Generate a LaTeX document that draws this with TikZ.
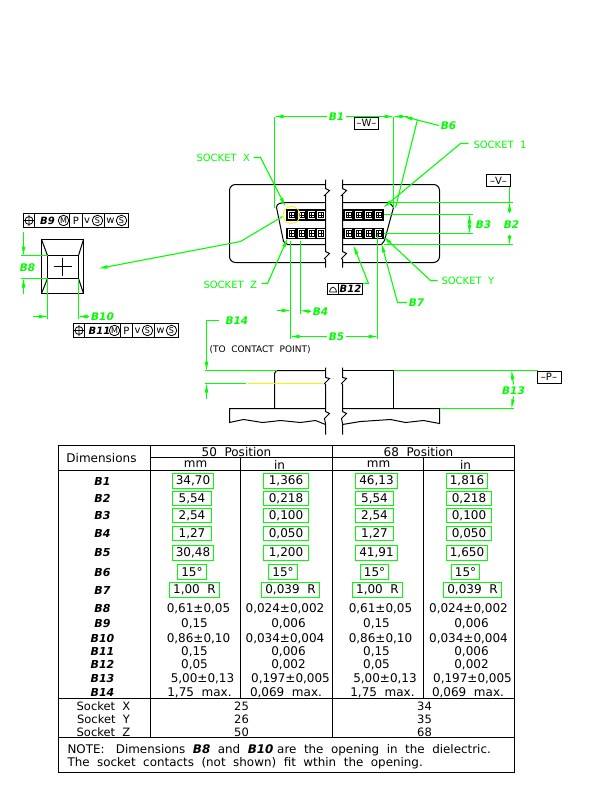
\documentclass[tikz,border=0pt]{standalone}
\usepackage{fontspec}
\setmainfont{DejaVu Sans}
\usetikzlibrary{arrows.meta}

\begin{document}
\begin{tikzpicture}[x=1pt,y=-1pt,
    every node/.style={inner sep=0pt,outer sep=0pt},
    outline/.style={draw=black,line width=1pt},
    dimline/.style={draw=green,line width=1.1pt},
    dimarrow/.style={dimline,-{Triangle[length=9pt,width=3.2pt]}},
    leadtext/.style={text=green,font=\fontsize{10}{12}\selectfont},
    dimtext/.style={text=green,outer sep=2pt,font=\fontsize{10.5}{12}\selectfont\bfseries\itshape},
    tabletext/.style={font=\fontsize{12}{14}\selectfont},
    tablelabel/.style={font=\fontsize{11}{13}\selectfont\bfseries\itshape},
    sockettext/.style={font=\fontsize{11.5}{14}\selectfont},
    notetext/.style={anchor=west,font=\fontsize{11.9}{14}\selectfont},
    valbox/.style={draw=green,line width=1.1pt,tabletext,minimum height=#1},
    valbox/.default=14pt,
    datumbox/.style={draw=black,line width=1pt,font=\fontsize{10}{11}\selectfont,minimum width=24pt,minimum height=12pt},
    circled/.style={draw=black,circle,line width=0.8pt,minimum size=10.5pt,font=\fontsize{8}{9}\selectfont},
    fcftext/.style={font=\fontsize{10}{11}\selectfont},
    fcflabel/.style={font=\fontsize{10}{11}\selectfont\bfseries\itshape}]

    \fill[white] (0,0) rectangle (612,792);
    \useasboundingbox (0,0) rectangle (612,792);

    \begin{scope}[shift={(0.5,0.5)}]
    % connector body, top view
    \draw[outline,rounded corners=6pt] (325,184) -- (229,184) -- (229,262) -- (325,262);
    \draw[outline,rounded corners=6pt] (342,184) -- (439,184) -- (439,262) -- (342,262);
    \foreach \bx in {325,342}{
        \draw[outline] (\bx,179) -- (\bx,188) -- ++(4,2) -- ++(-5,5) -- ++(1,0) -- (\bx,251)
            -- ++(4,2) -- ++(-5,5) -- ++(1,1) -- (\bx,267);
    }
    \draw[outline] (325,202) -- (287,202) .. controls (280,202) and (276,203) .. (276,207) -- (283,241) -- (287,244) -- (325,244);
    \draw[outline] (342,202) -- (389,202) -- (393,207) -- (384,240) -- (381,244) -- (342,244);

    % socket contacts
    \foreach \cx in {291,301,311,320.5,348,358,368,378}{
        \foreach \cy in {214.5,233}{
            \fill[black] (\cx-5.2,\cy-5.7) rectangle (\cx+5.2,\cy+5.7);
            \fill[white] (\cx-3.7,\cy-4.2) rectangle (\cx+3.7,\cy+4.2);
            \draw[black,line width=0.7pt] (\cx-2.6,\cy-2.8) rectangle (\cx+2.6,\cy+2.8);
            \draw[black,line width=0.6pt] (\cx-2.6,\cy) -- (\cx+2.6,\cy) (\cx,\cy-2.8) -- (\cx,\cy+2.8);
        }
    }
    \draw[yellow,line width=0.8pt] (291,214.5) circle (8.5);

    % top view dimensions
    \node[dimtext] (dimB1) at (336,116) {B1};
    \node[datumbox] (datumW) at (366,122.5) {–W–};
    \coordinate (b1left) at (274,116);
    \coordinate (b1right) at (393,116);
    \draw[dimline] (b1left) -- (274,207);
    \draw[dimline] (b1right) -- (393,207);
    \draw[dimarrow] (dimB1.west) -- (b1left);
    \draw[dimarrow] (dimB1.east) -- (b1right);
    \node[dimtext] (dimB6) at (448,125) {B6};
    \draw[dimarrow] (407,116) -- (b1right);
    \draw[dimarrow] (dimB6.west) -- (403,116);
    \draw[dimline] (417,119) -- (395,207);

    \node[leadtext,anchor=west] (socket1) at (473,144) {SOCKET\ \ 1};
    \draw[dimarrow] (468,143) -- (460,143) -- (383,207);
    \node[leadtext,anchor=west] (socketX) at (196,157) {SOCKET\ \ X};
    \draw[dimarrow] (253,157) -- (260,157) -- (285,206);
    \node[leadtext,anchor=west] (socketZ) at (203,284) {SOCKET\ \ Z};
    \draw[dimarrow] (261,283) -- (267,283) -- (287,238);
    \node[leadtext,anchor=west] (socketY) at (441,280) {SOCKET\ \ Y};
    \draw[dimarrow] (437,280) -- (430,280) -- (383,236);
    \node[dimtext] (dimB7) at (416,302) {B7};
    \draw[dimarrow] (dimB7.west) -- (397,302) -- (381,243);

    \node[draw=black,line width=1pt,minimum width=35pt,minimum height=11pt] (tolB12) at (344.5,288.5) {};
    \draw[outline] (338,283) -- (338,294);
    \draw[black,line width=0.7pt] (329,291.5) -- (336,291.5) .. controls (335,285) and (330,285) .. (329,291.5);
    \node[fcflabel] (dimB12) at (350,288.5) {B12};
    \draw[dimarrow] (tolB12.north east) -- (368,283) -- (353,245);

    \node[datumbox] (datumV) at (498,180) {–V–};
    \coordinate (b2top) at (509,202);
    \coordinate (b2bot) at (509,244);
    \draw[dimline] (389,202) -- (512,202);
    \draw[dimline] (383,244) -- (512,244);
    \draw[dimline] (383,214) -- (472,214);
    \draw[dimline] (383,233) -- (472,233);
    \node[dimtext] (dimB2) at (511,224) {B2};
    \node[dimtext] (dimB3) at (483,224) {B3};
    \draw[dimline] (datumV.south east) ++(-1,0) -- (b2top);
    \draw[dimarrow] (509,212) -- (b2top);
    \draw[dimarrow] (509,234) -- (b2bot);
    \draw[dimarrow] (469,224) -- (469,214);
    \draw[dimarrow] (469,224) -- (469,233);

    % B4 and B5
    \draw[dimline] (290,240) -- (290,338);
    \draw[dimline] (300,240) -- (300,313);
    \draw[dimline] (377,233) -- (377,338);
    \node[dimtext] (dimB4) at (320,311) {B4};
    \node[dimtext] (dimB5) at (336,336) {B5};
    \draw[dimarrow] (276,310) -- (290,310);
    \draw[dimarrow] (dimB4.west) -- (300,310);
    \draw[dimarrow] (dimB5.west) -- (290,336);
    \draw[dimarrow] (dimB5.east) -- (377,336);

    % contact window, left view
    \draw[outline] (41,239) rectangle (83,293);
    \draw[outline] (47,255) rectangle (78,278);
    \draw[outline] (41,239) -- (47,255) (83,239) -- (78,255) (41,293) -- (47,278) (83,293) -- (78,278);
    \draw[outline] (53,266) -- (71,266) (62,257) -- (62,275);
    \draw[dimarrow] (282,216) -- (240,241) -- (98,268);

    \node[dimtext] (dimB8) at (27,267) {B8};
    \draw[dimline] (20,255) -- (47,255);
    \draw[dimline] (20,278) -- (47,278);
    \draw[dimarrow] (23,231) -- (23,255);
    \draw[dimarrow] (23,293) -- (23,278);
    \draw[dimline] (47,278) -- (47,318);
    \draw[dimline] (78,278) -- (78,318);
    \node[dimtext] (dimB10) at (102,316) {B10};
    \draw[dimarrow] (32,316) -- (47,316);
    \draw[dimarrow] (dimB10.west) -- (78,316);

    % feature control frames
    \draw[outline] (23,213) rectangle (128,227);
    \foreach \fx in {34,69,82,104}{ \draw[outline] (\fx,213) -- (\fx,227); }
    \draw[outline,line width=0.8pt] (28.5,220) circle (4) (23.5,220) -- (33.5,220) (28.5,214.5) -- (28.5,225.5);
    \node[fcflabel] (fcfB9) at (47,220) {B9};
    \node[circled] (fcfBM) at (63,220) {M};
    \node[fcftext] (fcfBP) at (75.5,220) {P};
    \node[fcftext] (fcfBv) at (86.5,220) {v};
    \node[circled] (fcfBvS) at (97,220) {S};
    \node[fcftext] (fcfBw) at (110,220) {w};
    \node[circled] (fcfBwS) at (121,220) {S};

    \draw[outline] (73,323) rectangle (178,337);
    \foreach \fx in {84,120,132,154}{ \draw[outline] (\fx,323) -- (\fx,337); }
    \draw[outline,line width=0.8pt] (78.5,330) circle (4) (73.5,330) -- (83.5,330) (78.5,324.5) -- (78.5,335.5);
    \node[fcflabel] (fcfB11) at (99,330) {B11};
    \node[circled] (fcfCM) at (114,330) {M};
    \node[fcftext] (fcfCP) at (126,330) {P};
    \node[fcftext] (fcfCv) at (137,330) {v};
    \node[circled] (fcfCvS) at (147,330) {S};
    \node[fcftext] (fcfCw) at (160,330) {w};
    \node[circled] (fcfCwS) at (171,330) {S};

    % side view
    \foreach \bx in {325,342}{
        \draw[outline] (\bx,367) -- (\bx,377) -- ++(4,1) -- ++(-5,5) -- ++(1,1) -- (\bx,411)
            -- ++(4,2) -- ++(-5,5) -- ++(1,5) -- (\bx,434);
    }
    \draw[outline] (325,370) -- (276,370) -- (274,373) -- (274,408);
    \draw[outline] (342,370) -- (393,370) -- (393,408);
    \draw[outline] (325,408) -- (229,408) -- (229,422) -- (243,419) -- (262,422) -- (280,420) -- (300,422) -- (315,420) -- (325,424);
    \draw[outline] (342,408) -- (439,408) -- (439,423) -- (423,420) -- (405,422) -- (390,419) -- (360,421) -- (342,424);

    \node[dimtext,anchor=west] (dimB14) at (223,320) {B14};
    \node[font=\fontsize{9}{11}\selectfont,anchor=west] (contactnote) at (209,349) {(TO\ \ CONTACT\ \ POINT)};
    \draw[dimline] (218,320) -- (206,320) -- (206,358);
    \draw[dimarrow] (206,358) -- (206,370);
    \draw[dimarrow] (206,398) -- (206,383);
    \draw[dimline] (204,370) -- (276,370);
    \draw[dimline] (204,383) -- (245,383);
    \draw[yellow,line width=1pt] (247,383) -- (322,383);

    \node[datumbox] (datumP) at (548.5,376.5) {–P–};
    \draw[dimline] (393,370) -- (537,370);
    \draw[dimline] (439,408) -- (513,408);
    \node[dimtext] (dimB13) at (513,390) {B13};
    \draw[dimarrow] (dimB13.north) -- (511,370);
    \draw[dimarrow] (dimB13.south) -- (511,408);

    % table frame
    \draw[outline] (58,445) rectangle (514,772);
    \draw[outline] (150,457) -- (514,457);
    \draw[outline] (58,470) -- (514,470);
    \draw[outline] (58,698) -- (514,698);
    \draw[outline] (58,737) -- (514,737);
    \draw[outline] (150,445) -- (150,737);
    \draw[outline] (332,445) -- (332,737);
    \draw[outline] (240,457) -- (240,698);
    \draw[outline] (423,457) -- (423,698);

    \node[tabletext] (headDim) at (101,458) {Dimensions};
    \node[tabletext] (head50) at (236,451.5) {50\ \ Position};
    \node[tabletext] (head68) at (418,451.5) {68\ \ Position};
    \node[tabletext] (headmmA) at (195,464) {mm};
    \node[tabletext] (headinA) at (279,464) {in};
    \node[tabletext] (headmmB) at (378,464) {mm};
    \node[tabletext] (headinB) at (465,464) {in};

    % boxed rows
    \foreach \rowy/\rowh/\rowlab/\txtA/\txtB/\txtC/\txtD/\xA/\wA/\xB/\wB/\xC/\wC/\xD/\wD in {
        480.5/15/B1/{34,70}/{1,366}/{46,13}/{1,816}/192.5/41/285.5/45/376/42/466.5/41,
        498/14/B2/{5,54}/{0,218}/{5,54}/{0,218}/191.5/39/285.5/45/374/38/468.5/45,
        515/14/B3/{2,54}/{0,100}/{2,54}/{0,100}/191.5/39/285.5/45/374/38/468.5/45,
        533/14/B4/{1,27}/{0,050}/{1,27}/{0,050}/191.5/39/285.5/45/374/38/468.5/45,
        552.5/15/B5/{30,48}/{1,200}/{41,91}/{1,650}/192.5/41/285.5/45/376/42/466.5/41,
        571.5/15/B6/{15°}/{15°}/{15°}/{15°}/191.5/29/282.5/29/374/28/465/28,
        589.5/15/B7/{1,00\ \ R}/{0,039\ \ R}/{1,00\ \ R}/{0,039\ \ R}/194/50/290/58/377/50/472/58}{
        \node[tablelabel] (lab\rowlab) at (102,\rowy) {\rowlab};
        \node[valbox=\rowh pt,minimum width=\wA pt] (\rowlab a) at (\xA,\rowy) {\txtA};
        \node[valbox=\rowh pt,minimum width=\wB pt] (\rowlab b) at (\xB,\rowy) {\txtB};
        \node[valbox=\rowh pt,minimum width=\wC pt] (\rowlab c) at (\xC,\rowy) {\txtC};
        \node[valbox=\rowh pt,minimum width=\wD pt] (\rowlab d) at (\xD,\rowy) {\txtD};
    }

    % plain rows
    \foreach \rowy/\rowlab/\txtA/\txtB/\txtC/\txtD/\xA/\xB/\xC/\xD in {
        608/B8/{0,61±0,05}/{0,024±0,002}/{0,61±0,05}/{0,024±0,002}/198/284.5/380/468,
        623/B9/{0,15}/{0,006}/{0,15}/{0,006}/194/288/376/471,
        638/B10/{0,86±0,10}/{0,034±0,004}/{0,86±0,10}/{0,034±0,004}/198/284.5/380/468,
        651/B11/{0,15}/{0,006}/{0,15}/{0,006}/194/288/376/471,
        664/B12/{0,05}/{0,002}/{0,05}/{0,002}/194/288/376/471,
        678/B13/{5,00±0,13}/{0,197±0,005}/{5,00±0,13}/{0,197±0,005}/202/290/384.5/472,
        692/B14/{1,75\ \ max.}/{0,069\ \ max.}/{1,75\ \ max.}/{0,069\ \ max.}/199/285.5/382/467.5}{
        \node[tablelabel] (lab\rowlab) at (102,\rowy) {\rowlab};
        \node[tabletext] (\rowlab a) at (\xA,\rowy) {\txtA};
        \node[tabletext] (\rowlab b) at (\xB,\rowy) {\txtB};
        \node[tabletext] (\rowlab c) at (\xC,\rowy) {\txtC};
        \node[tabletext] (\rowlab d) at (\xD,\rowy) {\txtD};
    }

    % socket rows
    \foreach \rowy/\rowlab/\valA/\valB in {706/X/25/34,719/Y/26/35,732/Z/50/68}{
        \node[sockettext] (sock\rowlab) at (103,\rowy) {Socket\ \ \rowlab};
        \node[sockettext] (sock\rowlab a) at (241,\rowy) {\valA};
        \node[sockettext] (sock\rowlab b) at (424,\rowy) {\valB};
    }

    % note
    \node[notetext] (noteA) at (67,750) {NOTE:\ \ \ Dimensions\ \ {\bfseries\itshape B8}\ \ and\ \ {\bfseries\itshape B10}\ are\ \ the\ \ opening\ \ in\ \ the\ \ dielectric.};
    \node[notetext] (noteB) at (67,763) {The\ \ socket\ \ contacts\ \ (not\ \ shown)\ \ fit\ \ wthin\ \ the\ \ opening.};
    \end{scope}
\end{tikzpicture}
\end{document}
